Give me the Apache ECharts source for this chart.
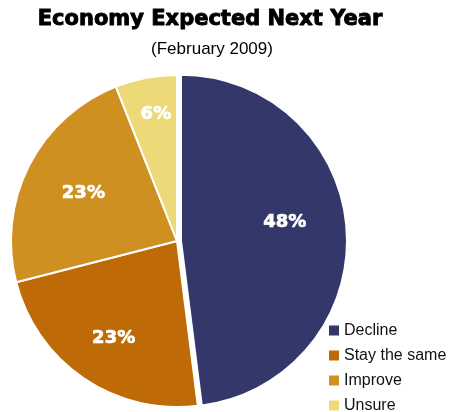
<!DOCTYPE html>
<html>
<head>
<meta charset="utf-8">
<script src="https://cdn.jsdelivr.net/npm/echarts@6/dist/echarts.min.js"></script>
<style>
  html, body { margin: 0; padding: 0; background: #ffffff; }
  #chart { width: 450px; height: 412px; }
</style>
</head>
<body>
<div id="chart"></div>
<script>
// Survey responses: how the economy is expected to fare next year
const categories = ['Decline', 'Stay the same', 'Improve', 'Unsure'];
const shares = [48, 23, 23, 6];
const colors = ['#33376A', '#BE6A06', '#CF9022', '#EDD978'];
// nudges that push each percentage label outward from the slice midpoint
const labelShift = [[18, -13], [-15, 26], [-17, -9], [-5, -42]];

const chart = echarts.init(document.getElementById('chart'), null, { renderer: 'canvas' });

chart.setOption({
  animation: false,
  title: [
    {
      text: 'Economy Expected Next Year',
      left: 205, top: 4, textAlign: 'center',
      textStyle: {
        fontFamily: 'DejaVu Sans', fontWeight: 900, fontSize: 21, color: '#000',
        textBorderColor: '#000', textBorderWidth: 0.9
      }
    },
    {
      text: '(February 2009)',
      left: 207, top: 36, textAlign: 'center',
      textStyle: { fontFamily: 'Liberation Sans', fontWeight: 'normal', fontSize: 17, color: '#000' }
    }
  ],
  legend: {
    orient: 'vertical',
    left: 322, top: 317,
    height: 120,
    itemWidth: 12, itemHeight: 12, itemGap: 8,
    icon: 'rect',
    selectedMode: false,
    data: categories,
    textStyle: { fontFamily: 'Liberation Sans', fontSize: 16, lineHeight: 17, color: '#111', padding: [0, 0, 0, -1] }
  },
  series: [{
    type: 'pie',
    center: [177, 241],
    radius: [0, 166],
    startAngle: 90,
    clockwise: true,
    selectedMode: 'single',
    selectedOffset: 4,
    emphasis: { disabled: true },
    itemStyle: { borderColor: '#ffffff', borderWidth: 2 },
    label: {
      show: true,
      position: 'inside',
      formatter: '{c}%',
      color: '#ffffff',
      fontFamily: 'DejaVu Sans',
      fontWeight: 'bold',
      fontSize: 18,
      textBorderColor: '#ffffff',
      textBorderWidth: 0.7
    },
    labelLine: { show: false },
    labelLayout: function (p) {
      const s = labelShift[p.dataIndex];
      return { dx: s[0], dy: s[1] };
    },
    data: categories.map((name, i) => ({
      name: name,
      value: shares[i],
      selected: i === 0,
      itemStyle: { color: colors[i] }
    }))
  }]
});
</script>
</body>
</html>
